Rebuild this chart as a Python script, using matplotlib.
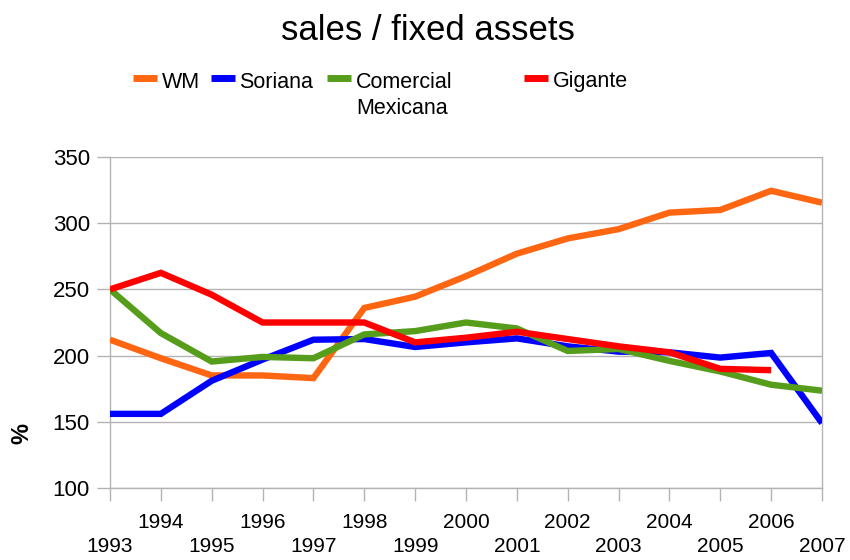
import matplotlib
matplotlib.use('Agg')
import matplotlib.pyplot as plt
from matplotlib.lines import Line2D

years = list(range(1993, 2008))
wm = [212, 198, 185, 185, 183, 236, 244.5, 260, 277, 288.5, 295.5, 308, 310, 324.5, 315.5]
soriana = [156, 156, 181, 197, 212, 212.5, 206.5, 210, 213, 207, 203, 202.5, 198.5, 202, 149]
comercial = [250, 217, 195.5, 199, 198, 216, 218.5, 225, 220.5, 203.5, 205, 196, 188, 178, 173.5]
gigante = [250, 262.5, 246, 225, 225, 225, 210, 213.5, 218, 212.5, 207, 202.5, 190, 189]

series = [wm, soriana, comercial, gigante]
names = ['WM', 'Soriana', 'Comercial\nMexicana', 'Gigante']
colors = ['#ff6611', '#0000ff', '#579d1c', '#ff0000']
yticks = [100, 150, 200, 250, 300, 350]
title = 'sales / fixed assets'
ylabel = '%'

plt.rcParams['font.family'] = ['Liberation Sans', 'DejaVu Sans']

W, H = 850, 560
fig = plt.figure(figsize=(W / 100, H / 100), dpi=100)
fig.patch.set_facecolor('white')

def fx(x):
    return x / W

def fy(y):
    return 1 - y / H

ax = fig.add_axes([fx(110), fy(488), (822 - 110) / W, (488 - 157) / H])
grid_c = '#b3b3b3'

for vals, c in zip(series, colors):
    ax.plot(years[:len(vals)], vals, color=c, lw=4.6,
            solid_capstyle='butt', solid_joinstyle='miter', zorder=3)

ax.set_xlim(1993, 2007)
ax.set_ylim(100, 350)
ax.set_yticks(yticks)
ax.set_xticks(years)
ax.set_xticklabels([str(y) if y % 2 == 0 else '\n' + str(y) for y in years],
                   family=['Liberation Sans Narrow', 'Liberation Sans'], fontsize=15)
for lbl in ax.get_xticklabels():
    lbl.set_linespacing(1.3)
ax.set_yticklabels([str(v) for v in yticks], fontsize=16)

ax.grid(axis='y', color=grid_c, lw=1, zorder=0)
for s in ['left', 'right', 'bottom']:
    ax.spines[s].set_color(grid_c)
    ax.spines[s].set_linewidth(1)
ax.spines['top'].set_visible(False)
ax.tick_params(axis='both', direction='out', length=9.5, width=1, color=grid_c)
ax.tick_params(axis='y', pad=5)
ax.tick_params(axis='x', pad=8.5)

ax.set_ylabel(ylabel, fontsize=17, fontweight='bold', rotation=90)
ax.yaxis.set_label_coords((33 - 110) / 712, (488 - 434) / 331)

fig.text(0.5035, fy(31), title, ha='center', va='center', fontsize=25)

# legend
hx = [133, 211, 327, 524]
tx = [162, 239, 356, 553]
for i, (name, c) in enumerate(zip(names, colors)):
    fig.add_artist(Line2D([fx(hx[i]), fx(hx[i] + 24)], [fy(77.5), fy(77.5)],
                          color=c, lw=5, solid_capstyle='butt', transform=fig.transFigure))
    for j, part in enumerate(name.split('\n')):
        fig.text(fx(tx[i]), fy(82 + 27 * j), part, ha='left', va='center', fontsize=15.5)

fig.savefig('out.png', dpi=100)
